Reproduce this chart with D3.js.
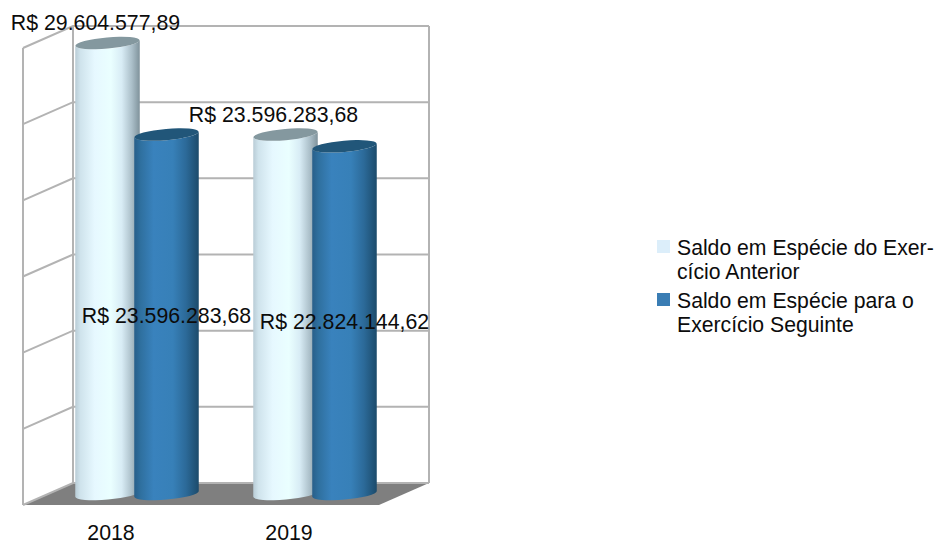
<!DOCTYPE html>
<html lang="pt">
<head>
<meta charset="utf-8">
<script src="https://cdn.jsdelivr.net/npm/d3@7/dist/d3.min.js"></script>
<style>
  html, body { margin: 0; padding: 0; background: #fff; }
  text { font-family: "Liberation Sans", Arial, sans-serif; fill: #0c0c0c; }
</style>
</head>
<body>
<svg id="chart" width="936" height="541"></svg>
<script>
// Saldo em espécie por exercício
const categories = ["2018", "2019"];
const seriesNames = ["Saldo em Espécie do Exercício Anterior", "Saldo em Espécie para o Exercício Seguinte"];
const saldoAnterior = [29604577.89, 23596283.68];
const saldoSeguinte = [23596283.68, 22824144.62];
const axisTicks = [0, 5e6, 10e6, 15e6, 20e6, 25e6, 30e6];
const legendLines = [["Saldo em Espécie do Exer-", "cício Anterior"], ["Saldo em Espécie para o", "Exercício Seguinte"]];

const brl = v => "R$ " + v.toLocaleString("pt-BR", { minimumFractionDigits: 2, maximumFractionDigits: 2 });

const svg = d3.select("#chart");

// Oblique box: the front plane is shifted from the back wall by depth
const depthX = 50, depthY = 22;
const x = d3.scaleBand().domain(categories).range([23, 379]);
const y = d3.scaleLinear().domain([0, 30e6]).range([483, 26]);
const series = d3.scaleBand().domain(d3.range(2)).range([-59, 59]);

const gridColor = "#b3b3b3";
const wall = svg.append("g").attr("fill", "none").attr("stroke", gridColor).attr("stroke-width", 2);
const backLeft = x.range()[0] + depthX, backRight = x.range()[1] + depthX;

// Floor
svg.insert("path", "g")
  .attr("fill", "#7f7f7f")
  .attr("d", d3.line()([
    [x.range()[0], y(0) + depthY], [backLeft, y(0)], [backRight, y(0)], [x.range()[1], y(0) + depthY]
  ]) + "Z");

// Gridlines on the back and left walls
wall.selectAll("path.grid").data(axisTicks).join("path").attr("class", "grid")
  .attr("d", t => d3.line()([[x.range()[0], y(t) + depthY], [backLeft, y(t)], [backRight, y(t)]]));
wall.append("path").attr("d", d3.line()([[x.range()[0], y(30e6) + depthY], [x.range()[0], y(0) + depthY]]));
wall.append("path").attr("d", d3.line()([[backLeft, y(30e6)], [backLeft, y(0)]]));
wall.append("path").attr("d", d3.line()([[backRight, y(30e6)], [backRight, y(0)]]));

// Cylinder shading
const defs = svg.append("defs");
function shade(id, stops) {
  const g = defs.append("linearGradient").attr("id", id);
  stops.forEach(([o, c]) => g.append("stop").attr("offset", o).attr("stop-color", c));
}
shade("cylLight", [[0, "#b9ccd6"], [0.08, "#cfe3ec"], [0.3, "#e6f8ff"], [0.55, "#eaffff"], [0.72, "#d8ecf5"], [0.88, "#aabec8"], [1, "#7f929b"]]);
shade("cylBlue", [[0, "#285f8a"], [0.1, "#2f709f"], [0.3, "#3982bd"], [0.6, "#3780b8"], [0.8, "#2c6a99"], [1, "#1c4b6b"]]);

const capColors = ["#84989f", "#215679"];
const fills = ["url(#cylLight)", "url(#cylBlue)"];
const barWidth = 64.5, rx = barWidth / 2, ry = 5.6, tilt = 5;
const dy = rx * Math.sin(tilt * Math.PI / 180);

const bars = [];
categories.forEach((c, i) => {
  [saldoAnterior[i], saldoSeguinte[i]].forEach((v, s) => bars.push({ c, s, v }));
});

const barGroups = svg.selectAll("g.cyl").data(bars).join("g").attr("class", "cyl");
barGroups.each(function (d) {
  const g = d3.select(this);
  const cx = x(d.c) + x.bandwidth() / 2 + depthX / 2 + series(d.s) + series.bandwidth() / 2;
  const top = y(d.v) + depthY / 2, base = y(0) + depthY / 2;
  const l = cx - rx, r = cx + rx;
  g.append("path")
    .attr("fill", fills[d.s])
    .attr("d", `M${l},${top + dy}L${l},${base + dy}A${rx},${ry} ${-tilt} 0 0 ${r},${base - dy}L${r},${top - dy}A${rx},${ry} ${-tilt} 0 1 ${l},${top + dy}Z`);
  g.append("ellipse")
    .attr("cx", cx).attr("cy", top).attr("rx", rx).attr("ry", ry)
    .attr("transform", `rotate(${-tilt} ${cx} ${top})`)
    .attr("fill", capColors[d.s]);
});

// Value labels: each one is placed relative to the top of its cylinder
const labelFont = 21.3;
const labelOffsets = [[-12, -13], [0, 188], [-12, -13], [0, 183]];
svg.selectAll("text.value").data(bars).join("text").attr("class", "value")
  .attr("font-size", labelFont)
  .attr("text-anchor", "middle")
  .attr("x", (d, i) => x(d.c) + x.bandwidth() / 2 + depthX / 2 + series(d.s) + series.bandwidth() / 2 + labelOffsets[i][0])
  .attr("y", (d, i) => y(d.v) + depthY / 2 + labelOffsets[i][1])
  .text(d => brl(d.v));

// Category labels
svg.selectAll("text.cat").data(categories).join("text").attr("class", "cat")
  .attr("font-size", labelFont)
  .attr("text-anchor", "middle")
  .attr("x", c => x(c) + x.bandwidth() / 2 - 1)
  .attr("y", 540)
  .text(c => c);

// Legend
const legendColors = ["#dceefa", "#3a7db4"];
const legendTops = [240, 293];
const legend = svg.selectAll("g.legend").data(seriesNames).join("g").attr("class", "legend");
legend.append("rect")
  .attr("x", 657).attr("y", (d, i) => legendTops[i]).attr("width", 13).attr("height", 13)
  .attr("fill", (d, i) => legendColors[i]);
legend.each(function (d, i) {
  d3.select(this).selectAll("text").data(legendLines[i]).join("text")
    .attr("font-size", 21.2)
    .attr("x", 677)
    .attr("y", (t, k) => legendTops[i] + 15 + k * 24)
    .text(t => t);
});
</script>
</body>
</html>
